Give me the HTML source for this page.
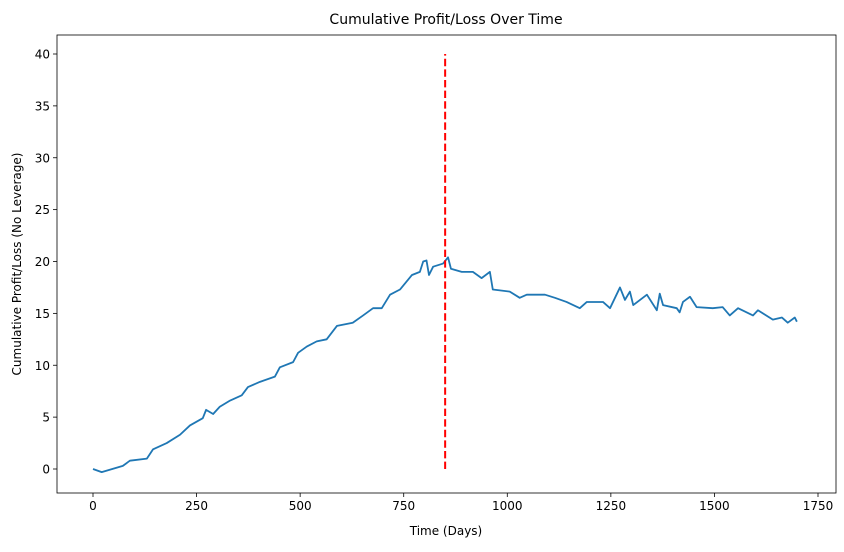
<!DOCTYPE html>
<html><head><meta charset="utf-8"><style>
body{margin:0;background:#fff;font-family:"Liberation Sans","DejaVu Sans",sans-serif}
svg text{font-family:"DejaVu Sans","Liberation Sans",sans-serif;fill:#000}
</style></head><body>
<svg id="c" width="844" height="547" xmlns="http://www.w3.org/2000/svg"></svg>
<script>
const days=[0,21,72,89,130,145,178,210,234,265,273,290,306,331,359,374,403,439,451,483,495,516,540,564,589,627,652,676,697,717,741,770,789,797,805,811,821,845,857,864,890,917,938,958,965,1006,1030,1047,1091,1115,1143,1175,1192,1231,1248,1272,1284,1296,1304,1337,1361,1368,1376,1409,1416,1424,1441,1457,1496,1520,1537,1557,1593,1605,1641,1663,1677,1694,1699];
const pnl=[0,-0.3,0.3,0.8,1.0,1.9,2.5,3.3,4.2,4.9,5.7,5.3,6.0,6.6,7.1,7.9,8.4,8.9,9.8,10.3,11.2,11.8,12.3,12.5,13.8,14.1,14.8,15.5,15.5,16.8,17.3,18.7,19.0,20.0,20.1,18.7,19.5,19.8,20.4,19.3,19.0,19.0,18.4,19.0,17.3,17.1,16.5,16.8,16.8,16.5,16.1,15.5,16.1,16.1,15.5,17.5,16.3,17.1,15.8,16.8,15.3,16.9,15.8,15.5,15.1,16.1,16.6,15.6,15.5,15.6,14.8,15.5,14.8,15.3,14.4,14.6,14.1,14.6,14.2];
const xTicks=[0,250,500,750,1000,1250,1500,1750];
const yTicks=[0,5,10,15,20,25,30,35,40];
const splitDay=850, splitLo=0, splitHi=40;
const L=57,R=836,T=35,B=493;
const xs=d=>93+d*(818-93)/1750;
const ys=v=>469-v*(469-54)/40;
const svg=document.getElementById('c');
const NS='http://www.w3.org/2000/svg';
function mk(t,a,txt){const e=document.createElementNS(NS,t);for(const k in a)e.setAttribute(k,a[k]);if(txt!==undefined)e.textContent=txt;svg.appendChild(e);return e;}
let e=mk('rect',{x:L,y:T,width:R-L,height:B-T,fill:'none',stroke:'#000','stroke-width':0.8});


xTicks.forEach(t=>{const x=xs(t);
let l=mk('line',{x1:x,x2:x,y1:B,y2:B+4,stroke:'#000','stroke-width':0.8});


let tx=mk('text',{x:x,y:B+17,'font-size':12,'text-anchor':'middle'},String(t));

});
yTicks.forEach(t=>{const y=ys(t);
let l=mk('line',{x1:L-4,x2:L,y1:y,y2:y,stroke:'#000','stroke-width':0.8});


let tx=mk('text',{x:L-7,y:y+4.5,'font-size':12,'text-anchor':'end'},String(t));

});
let p=mk('polyline',{points:days.map((d,i)=>xs(d)+','+ys(pnl[i])).join(' '),fill:'none',stroke:'#1f77b4','stroke-width':1.8,'stroke-linejoin':'round'});


let r=mk('line',{x1:xs(splitDay),x2:xs(splitDay),y1:ys(splitLo),y2:ys(splitHi),stroke:'#ff0000','stroke-width':2,'stroke-dasharray':'7.4,3.2'});


let t1=mk('text',{x:446,y:24,'font-size':14,'text-anchor':'middle'},'Cumulative Profit/Loss Over Time');


let t2=mk('text',{x:446,y:535,'font-size':12,'text-anchor':'middle'},'Time (Days)');


let t3=mk('text',{x:21,y:264,'font-size':12,'text-anchor':'middle',transform:'rotate(-90 21 264)'},'Cumulative Profit/Loss (No Leverage)');


</script>
</body></html>
